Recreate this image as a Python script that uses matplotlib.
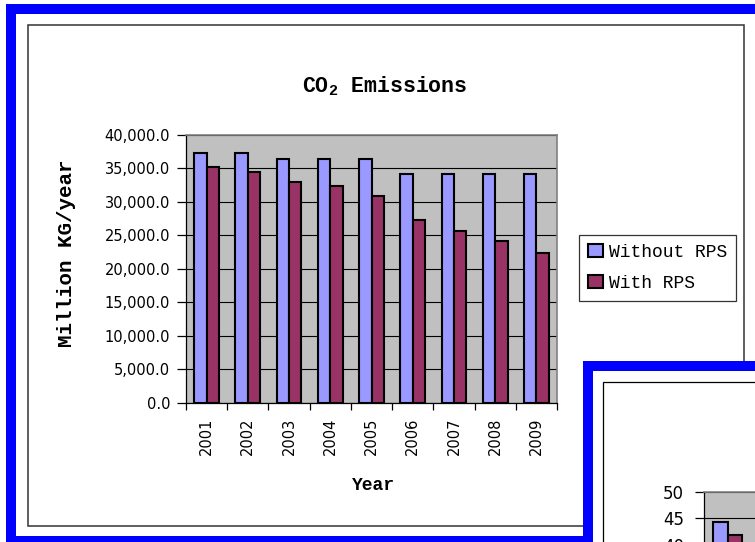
import numpy as np
import matplotlib
matplotlib.use("Agg")
import matplotlib.pyplot as plt
from matplotlib.patches import Rectangle
from matplotlib.ticker import FuncFormatter, MultipleLocator

# CO2 emissions, million kg per year
years = ["2001", "2002", "2003", "2004", "2005", "2006", "2007", "2008", "2009"]
without_rps = [37200, 37200, 36400, 36400, 36400, 34200, 34200, 34200, 34200]
with_rps = [35200, 34500, 33000, 32300, 30900, 27200, 25600, 24100, 22400]

# second chart (only its first year shows on the page)
second_years = ["2001"]
second_without = [44.2]
second_with = [41.8]

BLUE_BAR = "#9999FF"
RED_BAR = "#993366"
PLOT_BG = "#C0C0C0"
MONO = "Liberation Mono"
SANS = "DejaVu Sans"

W, H = 755, 542
plt.rcParams["mathtext.default"] = "regular"


def fx(x):
    return x / W


def fy(y):
    return 1 - y / H


def px_rect(x0, y0, x1, y1, **kw):
    return Rectangle((fx(x0), fy(y1)), fx(x1) - fx(x0), fy(y0) - fy(y1),
                     transform=fig.transFigure, **kw)


fig = plt.figure(figsize=(W / 100, H / 100), dpi=100)
fig.patch.set_facecolor("white")

# outer blue frame and inner black chart border
fig.add_artist(px_rect(11, 9, 820, 541, facecolor="white", edgecolor="#0000FF",
                       linewidth=7.2, zorder=1))
fig.add_artist(px_rect(27.5, 25, 744, 526, facecolor="white", edgecolor="#333333",
                       linewidth=1.1, zorder=1.1))


def style_axes(ax, label_size):
    ax.set_facecolor(PLOT_BG)
    ax.set_axisbelow(True)
    ax.grid(axis="y", color="black", linewidth=0.8)
    ax.grid(axis="x", visible=False)
    for side in ("top", "right"):
        ax.spines[side].set_color("#808080")
        ax.spines[side].set_linewidth(1.2)
    for side in ("left", "bottom"):
        ax.spines[side].set_color("black")
        ax.spines[side].set_linewidth(0.9)
    ax.tick_params(axis="y", direction="out", length=6.5, width=0.9,
                   pad=5, labelsize=label_size, colors="black")
    for t in ax.get_yticklabels():
        t.set_fontfamily(SANS)


# main chart
ax = fig.add_axes([fx(186), fy(402.7), (557 - 186) / W, (402.7 - 134.7) / H], zorder=2)
x = np.arange(len(years))
ax.bar(x - 0.15, without_rps, 0.3, color=BLUE_BAR, edgecolor="black",
       linewidth=1.5, label="Without RPS", zorder=3)
ax.bar(x + 0.15, with_rps, 0.3, color=RED_BAR, edgecolor="black",
       linewidth=1.5, label="With RPS", zorder=3)
ax.set_xlim(-0.5, len(years) - 0.5)
ax.set_ylim(0, 40000)
ax.yaxis.set_major_locator(MultipleLocator(5000))
ax.yaxis.set_major_formatter(FuncFormatter(lambda v, p: f"{v:,.1f}"))
style_axes(ax, 10.5)
ax.set_xticks(x)
ax.set_xticklabels(years, rotation=90, fontsize=10.5, family=SANS)
ax.set_xticks(np.arange(len(years) + 1) - 0.5, minor=True)
ax.tick_params(axis="x", which="major", length=0, pad=11)
ax.tick_params(axis="x", which="minor", direction="out", length=5, width=0.9)

fig.text(fx(385), fy(92), "CO$_2$ Emissions", ha="center", va="baseline",
         fontsize=15.5, fontweight="bold", family=MONO)
fig.text(fx(373), fy(490), "Year", ha="center", va="baseline",
         fontsize=13, fontweight="bold", family=MONO)
fig.text(fx(66), fy(347), "Million KG/year", ha="center", va="bottom",
         rotation=90, fontsize=15, fontweight="bold", family=MONO)

leg = fig.legend(loc="upper left", bbox_to_anchor=(fx(579), fy(235)),
                 borderaxespad=0, prop={"family": MONO, "size": 13},
                 frameon=True, fancybox=False, edgecolor="black",
                 handlelength=0.85, handleheight=0.75, handletextpad=0.3,
                 labelspacing=0.75, borderpad=0.5)
leg.get_frame().set_linewidth(0.9)
leg.set_zorder(2.5)

# second chart, mostly off the page
fig.add_artist(px_rect(587.7, 365.7, 900, 700, facecolor="white", edgecolor="#0000FF",
                       linewidth=7.2, zorder=3))
fig.add_artist(px_rect(603.3, 382.3, 900, 700, facecolor="white", edgecolor="black",
                       linewidth=0.9, zorder=3.1))

ax2 = fig.add_axes([fx(704), fy(757), 423 / W, 265.3 / H], zorder=4)
x2 = np.arange(len(second_years))
ax2.bar(x2 - 0.15, second_without, 0.3, color=BLUE_BAR, edgecolor="black",
        linewidth=1.5, zorder=3)
ax2.bar(x2 + 0.15, second_with, 0.3, color=RED_BAR, edgecolor="black",
        linewidth=1.5, zorder=3)
ax2.set_xlim(-0.5, 8.5)
ax2.set_ylim(0, 50)
ax2.set_yticks([40, 45, 50])
style_axes(ax2, 12)
ax2.tick_params(axis="y", pad=8)
ax2.set_xticks([])

fig.savefig("out.png", dpi=100)
